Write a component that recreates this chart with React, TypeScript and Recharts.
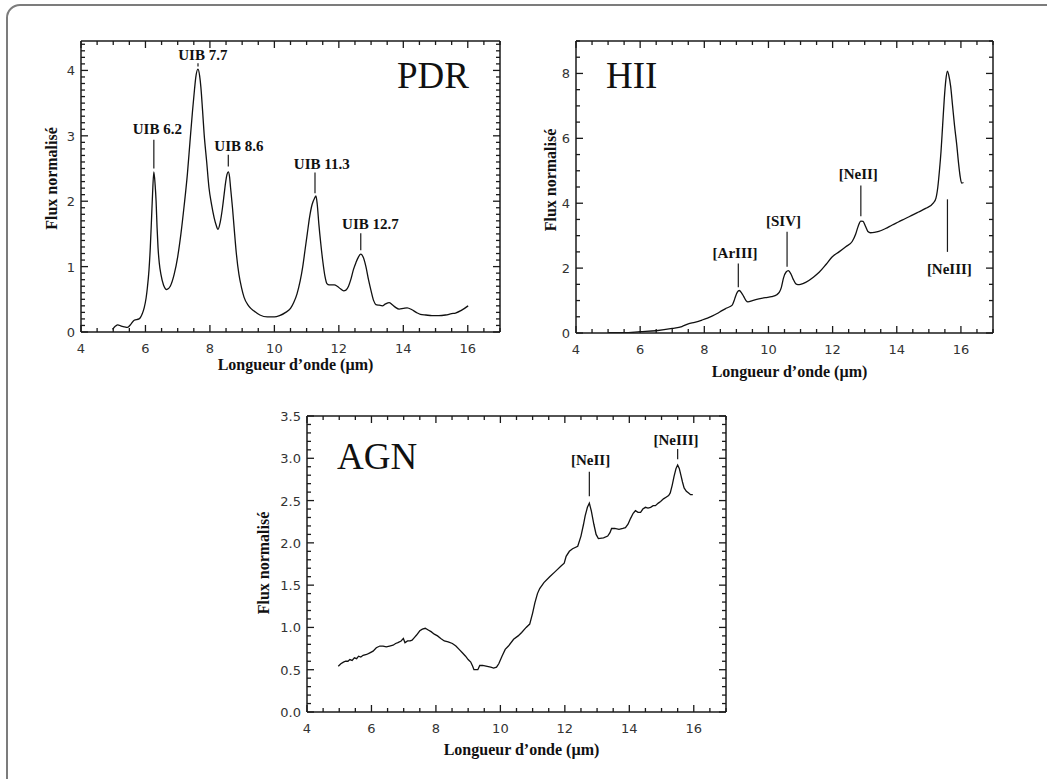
import React from 'react';
import { LineChart, Line, XAxis, YAxis, ReferenceLine, ReferenceDot } from 'recharts';

// Spectre PDR
const pdrWavelength = [
  4.98, 5.07, 5.14, 5.25, 5.35, 5.44, 5.55, 5.65, 5.8, 5.9, 5.96, 6.02, 6.06, 6.11, 6.15, 6.19, 6.22, 6.26,
  6.3, 6.33, 6.36, 6.39, 6.43, 6.48, 6.56, 6.66, 6.77, 6.89, 7.0, 7.1, 7.2, 7.3, 7.38, 7.46, 7.52, 7.56,
  7.63, 7.68, 7.72, 7.77, 7.82, 7.9, 7.97, 8.05, 8.13, 8.19, 8.25, 8.32, 8.39, 8.44, 8.49, 8.53, 8.57, 8.61,
  8.64, 8.7, 8.75, 8.82, 8.9, 8.98, 9.06, 9.2, 9.37, 9.55, 9.78, 10.0, 10.16, 10.35, 10.5, 10.6, 10.7, 10.8,
  10.88, 10.95, 11.02, 11.09, 11.17, 11.25, 11.29, 11.33, 11.38, 11.44, 11.5, 11.57, 11.63, 11.7, 11.86,
  11.95, 12.05, 12.15, 12.22, 12.3, 12.37, 12.45, 12.53, 12.61, 12.68, 12.75, 12.84, 12.92, 13.0, 13.08,
  13.15, 13.25, 13.35, 13.45, 13.56, 13.65, 13.75, 13.87, 14.0, 14.12, 14.27, 14.4, 14.53, 14.7, 14.89,
  15.1, 15.31, 15.5, 15.62, 15.8, 16.01,
];
const pdrFlux = [
  0.04, 0.09, 0.11, 0.09, 0.08, 0.07, 0.12, 0.18, 0.2, 0.28, 0.37, 0.52, 0.68, 0.95, 1.29, 1.75, 2.11, 2.45,
  2.25, 2.0, 1.6, 1.29, 1.05, 0.88, 0.72, 0.65, 0.7, 0.88, 1.15, 1.5, 1.93, 2.41, 2.9, 3.38, 3.7, 3.89,
  4.02, 3.92, 3.74, 3.4, 3.03, 2.6, 2.21, 1.95, 1.75, 1.64, 1.57, 1.68, 1.9, 2.1, 2.3, 2.41, 2.45, 2.37,
  2.21, 1.9, 1.6, 1.2, 0.88, 0.68, 0.53, 0.4, 0.32, 0.26, 0.23, 0.23, 0.25, 0.3, 0.36, 0.45, 0.58, 0.78,
  1.0, 1.25, 1.5, 1.75, 1.95, 2.05, 2.08, 1.95, 1.65, 1.35, 1.09, 0.85, 0.74, 0.72, 0.72,
  0.7, 0.66, 0.63, 0.64, 0.7, 0.8, 0.95, 1.06, 1.15, 1.19, 1.15, 1.0, 0.8, 0.63, 0.48,
  0.42, 0.41, 0.4, 0.43, 0.45, 0.42, 0.38, 0.35, 0.36, 0.37, 0.34, 0.3, 0.27, 0.26, 0.25,
  0.25, 0.26, 0.28, 0.29, 0.33, 0.4,
];

// Spectre HII
const hiiWavelength = [
  5.0, 5.5, 6.0, 6.5, 7.0, 7.3, 7.5, 7.7, 7.93, 8.1, 8.24, 8.4, 8.55, 8.7, 8.87, 8.93, 8.97, 9.03, 9.09,
  9.16, 9.23, 9.3, 9.36, 9.5, 9.7, 9.9, 10.1, 10.26, 10.34, 10.4, 10.47, 10.55, 10.62, 10.7, 10.77, 10.85,
  10.92, 11.0, 11.16, 11.4, 11.58, 11.8, 11.99, 12.2, 12.41, 12.61, 12.72, 12.8, 12.88, 12.95, 13.02, 13.1,
  13.18, 13.3, 13.44, 13.65, 13.86, 14.05, 14.27, 14.5, 14.68, 14.9, 15.15, 15.22, 15.28, 15.33, 15.38,
  15.43, 15.48, 15.53, 15.58, 15.62, 15.68, 15.74, 15.8, 15.87, 15.93, 15.98, 16.02, 16.08,
];
const hiiFlux = [
  0.01, 0.01, 0.04, 0.07, 0.14, 0.2, 0.28, 0.33, 0.4, 0.46, 0.52, 0.6, 0.69, 0.77, 0.86, 1.0, 1.12, 1.26, 1.31,
  1.24, 1.12, 1.0, 0.96, 1.0, 1.05, 1.09, 1.12, 1.18, 1.26, 1.4, 1.7, 1.88, 1.92, 1.82, 1.66, 1.52,
  1.49, 1.5, 1.56, 1.72, 1.87, 2.12, 2.35, 2.5, 2.66, 2.82, 3.05, 3.3, 3.45, 3.44, 3.3, 3.13,
  3.09, 3.1, 3.13, 3.22, 3.33, 3.42, 3.53, 3.64, 3.73, 3.84, 4.02, 4.15, 4.5, 5.0, 5.6,
  6.4, 7.2, 7.8, 8.07, 7.95, 7.6, 7.0, 6.4, 5.8, 5.2, 4.8, 4.62, 4.64,
];

// Spectre AGN
const agnWavelength = [
  4.97, 5.05, 5.13, 5.2, 5.27, 5.33, 5.4, 5.47, 5.54, 5.6, 5.67, 5.74, 5.85, 5.95, 6.05, 6.15, 6.26, 6.36,
  6.46, 6.56, 6.67, 6.75, 6.82, 6.92, 6.99, 7.04, 7.12, 7.2, 7.26, 7.33, 7.4, 7.5, 7.58, 7.67, 7.76, 7.85,
  7.95, 8.05, 8.15, 8.26, 8.38, 8.51, 8.62, 8.72, 8.82, 8.92, 9.0, 9.08, 9.14, 9.18, 9.3, 9.36, 9.45, 9.59,
  9.7, 9.79, 9.88, 9.95, 10.05, 10.15, 10.25, 10.41, 10.55, 10.66, 10.8, 10.91, 11.0, 11.07, 11.15, 11.22,
  11.35, 11.53, 11.7, 11.89, 11.98, 12.04, 12.14, 12.24, 12.4, 12.5, 12.58, 12.63, 12.7, 12.76, 12.82,
  12.9, 12.97, 13.04, 13.2, 13.33, 13.4, 13.45, 13.55, 13.68, 13.8, 13.88, 13.96, 14.04, 14.12, 14.19,
  14.27, 14.35, 14.42, 14.5, 14.58, 14.66, 14.74, 14.81, 14.9, 14.97, 15.06, 15.14, 15.22, 15.27, 15.33,
  15.39, 15.45, 15.5, 15.55, 15.6, 15.65, 15.7, 15.77, 15.84, 15.9, 15.97,
];
const agnFlux = [
  0.54, 0.57, 0.59, 0.6, 0.6, 0.62, 0.61, 0.64, 0.63, 0.66, 0.65, 0.67, 0.68, 0.7, 0.72, 0.76, 0.78, 0.78,
  0.77, 0.78, 0.79, 0.81, 0.82, 0.84, 0.87, 0.82, 0.84, 0.84, 0.85, 0.88, 0.91, 0.96, 0.98, 0.99, 0.97, 0.95,
  0.92, 0.9, 0.87, 0.84, 0.83, 0.81, 0.78, 0.74, 0.7, 0.66, 0.62, 0.59, 0.54, 0.5, 0.5, 0.55, 0.55, 0.54,
  0.53, 0.52, 0.53, 0.57, 0.66, 0.74, 0.78, 0.86, 0.9, 0.94, 1.0, 1.04, 1.17, 1.29, 1.4, 1.46,
  1.53, 1.6, 1.66, 1.73, 1.76, 1.84, 1.9, 1.93, 1.96, 2.08, 2.22, 2.32, 2.42, 2.47, 2.38,
  2.22, 2.1, 2.05, 2.06, 2.08, 2.12, 2.17, 2.17, 2.16, 2.17, 2.18, 2.22, 2.29, 2.35, 2.38,
  2.36, 2.36, 2.4, 2.42, 2.41, 2.42, 2.44, 2.44, 2.47, 2.49, 2.52, 2.54, 2.56, 2.59, 2.68,
  2.79, 2.88, 2.92, 2.88, 2.8, 2.72, 2.65, 2.61, 2.59, 2.57, 2.57,
];

// graduations
const xMajorTicks = [4, 6, 8, 10, 12, 14, 16];
const pdrYMajor = [0, 1, 2, 3, 4];
const hiiYMajor = [0, 2, 4, 6, 8];
const agnYMajor = [0, 0.5, 1, 1.5, 2, 2.5, 3, 3.5];

// raies annotées : x du trait, y bas/haut du trait, position du texte
const pdrNotes = [
  { label: 'UIB 6.2', x: 6.26, y0: 2.5, y1: 2.94, tx: 6.37, ty: 3.03 },
  { label: 'UIB 7.7', x: 7.63, y0: 4.06, y1: 4.11, tx: 7.78, ty: 4.16 },
  { label: 'UIB 8.6', x: 8.57, y0: 2.53, y1: 2.71, tx: 8.9, ty: 2.77 },
  { label: 'UIB 11.3', x: 11.26, y0: 2.12, y1: 2.44, tx: 11.47, ty: 2.5 },
  { label: 'UIB 12.7', x: 12.68, y0: 1.25, y1: 1.51, tx: 12.98, ty: 1.57 },
];
const hiiNotes = [
  { label: '[ArIII]', x: 9.06, y0: 1.41, y1: 2.14, tx: 8.96, ty: 2.3 },
  { label: '[SIV]', x: 10.58, y0: 2.04, y1: 3.12, tx: 10.47, ty: 3.29 },
  { label: '[NeII]', x: 12.88, y0: 3.6, y1: 4.55, tx: 12.8, ty: 4.74 },
  { label: '[NeIII]', x: 15.58, y0: 2.5, y1: 4.12, tx: 15.64, ty: 1.82 },
];
const agnNotes = [
  { label: '[NeII]', x: 12.76, y0: 2.55, y1: 2.84, tx: 12.8, ty: 2.92 },
  { label: '[NeIII]', x: 15.5, y0: 2.99, y1: 3.11, tx: 15.45, ty: 3.16 },
];

const SERIF = '"Liberation Serif", "Times New Roman", serif';
const SANS = '"DejaVu Sans", sans-serif';
const INK = '#1a1a1a';
const X_MIN = 4;
const X_MAX = 17;

function steps(from: number, to: number, step: number) {
  const out: number[] = [];
  for (let i = 0; from + i * step <= to + 1e-9; i++) out.push(Math.round((from + i * step) * 1000) / 1000);
  return out;
}
const isMajor = (v: number, majors: number[]) => majors.some((m) => Math.abs(m - v) < 1e-6);

const toRows = (wl: number[], flux: number[]) => wl.map((w, i) => ({ wl: w, flux: flux[i] }));

type Rect = { left: number; top: number; right: number; bottom: number };
type Note = { label: string; x: number; y0: number; y1: number; tx: number; ty: number };

interface PanelProps {
  data: { wl: number; flux: number }[];
  box: { left: number; top: number; width: number; height: number };
  plot: Rect;
  yMax: number;
  yStep: number;
  yMajor: number[];
  yDigits: number;
  title: string;
  titleAt: [number, number];
  notes: Note[];
  xTitleDy: number;
  yTitleDx: number;
  yTitleDy: number;
  curve: 'monotoneX' | 'linear';
}

function SpectrumPanel(p: PanelProps) {
  const { box, plot } = p;
  const xTicks = steps(X_MIN, X_MAX, 0.5);
  const yTicks = steps(0, p.yMax, p.yStep);
  const xAxisH = 40;
  // plot rect in chart coordinates
  const lx = plot.left - box.left;
  const ly = plot.top - box.top;
  const pw = plot.right - plot.left;
  const ph = plot.bottom - plot.top;
  const rx = lx + pw;
  const by = ly + ph;
  const margin = { top: 0, right: 0, left: 0, bottom: box.height - by - xAxisH };

  // tick length in data units (inward ticks on the four sides)
  const dxPer = (X_MAX - X_MIN) / pw;
  const dyPer = p.yMax / ph;
  const len = (major: boolean) => (major ? 7 : 4);

  const bottomLabel = (t: any) => {
    const v = t.payload.value;
    if (!isMajor(v, xMajorTicks)) return <g />;
    return (
      <text x={t.x} y={by + 21} textAnchor="middle" fontFamily={SANS} fontSize={13} fill="#333">
        {v}
      </text>
    );
  };
  const leftLabel = (t: any) => {
    const v = t.payload.value;
    if (!isMajor(v, p.yMajor)) return <g />;
    return (
      <text x={lx - 6} y={t.y + 5} textAnchor="end" fontFamily={SANS} fontSize={13} fill="#333">
        {v.toFixed(p.yDigits)}
      </text>
    );
  };

  const axisLine = { stroke: INK, strokeWidth: 1.5 };
  const tickLines: React.ReactNode[] = [];
  xTicks.forEach((v) => {
    const d = len(isMajor(v, xMajorTicks)) * dyPer;
    tickLines.push(
      <ReferenceLine key={'xb' + v} segment={[{ x: v, y: 0 }, { x: v, y: d }]} stroke={INK} strokeWidth={1.3} ifOverflow="visible" />,
      <ReferenceLine key={'xt' + v} segment={[{ x: v, y: p.yMax }, { x: v, y: p.yMax - d }]} stroke={INK} strokeWidth={1.3} ifOverflow="visible" />,
    );
  });
  yTicks.forEach((v) => {
    const d = len(isMajor(v, p.yMajor)) * dxPer;
    tickLines.push(
      <ReferenceLine key={'yl' + v} segment={[{ x: X_MIN, y: v }, { x: X_MIN + d, y: v }]} stroke={INK} strokeWidth={1.3} ifOverflow="visible" />,
      <ReferenceLine key={'yr' + v} segment={[{ x: X_MAX, y: v }, { x: X_MAX - d, y: v }]} stroke={INK} strokeWidth={1.3} ifOverflow="visible" />,
    );
  });

  return (
    <div style={{ position: 'absolute', left: box.left, top: box.top }}>
      <LineChart width={box.width} height={box.height} data={p.data} margin={margin}>
        <XAxis
          dataKey="wl"
          type="number"
          domain={[X_MIN, X_MAX]}
          ticks={xTicks}
          interval={0}
          tickLine={false}
          axisLine={axisLine}
          tick={bottomLabel}
          height={xAxisH}
          allowDataOverflow
        />
        <XAxis
          xAxisId="top"
          orientation="top"
          dataKey="wl"
          type="number"
          domain={[X_MIN, X_MAX]}
          tickLine={false}
          axisLine={axisLine}
          tick={false}
          height={ly}
          allowDataOverflow
        />
        <YAxis
          type="number"
          domain={[0, p.yMax]}
          ticks={yTicks}
          interval={0}
          tickLine={false}
          axisLine={axisLine}
          tick={leftLabel}
          width={lx}
          allowDataOverflow
        />
        <YAxis
          yAxisId="right"
          orientation="right"
          type="number"
          domain={[0, p.yMax]}
          tickLine={false}
          axisLine={axisLine}
          tick={false}
          width={box.width - rx}
          allowDataOverflow
        />
        {tickLines}
        <Line
          dataKey="flux"
          type={p.curve}
          stroke="#111"
          strokeWidth={1.3}
          dot={false}
          activeDot={false}
          isAnimationActive={false}
        />
        {p.notes.map((n) => (
          <ReferenceLine
            key={'l' + n.label}
            segment={[{ x: n.x, y: n.y0 }, { x: n.x, y: n.y1 }]}
            stroke={INK}
            strokeWidth={1.2}
          />
        ))}
        {p.notes.map((n) => (
          <ReferenceDot
            key={'t' + n.label}
            x={n.tx}
            y={n.ty}
            r={0}
            shape={(s: any) => (
              <text x={s.cx} y={s.cy} textAnchor="middle" fontFamily={SERIF} fontWeight="bold" fontSize={15} fill="#111">
                {n.label}
              </text>
            )}
          />
        ))}
        <text x={p.titleAt[0] - box.left} y={p.titleAt[1] - box.top} fontFamily={SERIF} fontSize={37} fill="#111">
          {p.title}
        </text>
        <text
          x={lx + pw / 2 + 5}
          y={by + p.xTitleDy}
          textAnchor="middle"
          fontFamily={SERIF}
          fontWeight="bold"
          fontSize={16}
          fill="#111"
        >
          Longueur d’onde (µm)
        </text>
        <text
          x={lx + p.yTitleDx}
          y={ly + ph / 2 + p.yTitleDy}
          textAnchor="middle"
          fontFamily={SERIF}
          fontWeight="bold"
          fontSize={16}
          fill="#111"
          transform={`rotate(-90 ${lx + p.yTitleDx} ${ly + ph / 2 + p.yTitleDy})`}
        >
          Flux normalisé
        </text>
      </LineChart>
    </div>
  );
}

export default function App() {
  return (
    <div
      style={{ position: 'absolute', left: 0, top: 0, width: 1047, height: 779, overflow: 'hidden', background: '#fff' }}
    >
      <div
        style={{
          position: 'absolute',
          left: 6,
          top: 4,
          width: 1100,
          height: 900,
          border: '2px solid #7c7c7c',
          borderRadius: 14,
        }}
      />
      <SpectrumPanel
        data={toRows(pdrWavelength, pdrFlux)}
        box={{ left: 20, top: 20, width: 500, height: 370 }}
        plot={{ left: 81, top: 41, right: 500, bottom: 332 }}
        yMax={4.45}
        yStep={0.1}
        yMajor={pdrYMajor}
        yDigits={0}
        title="PDR"
        titleAt={[397, 88]}
        notes={pdrNotes}
        xTitleDy={38}
        yTitleDx={-24}
        yTitleDy={-8}
        curve="monotoneX"
      />
      <SpectrumPanel
        data={toRows(hiiWavelength, hiiFlux)}
        box={{ left: 530, top: 20, width: 490, height: 370 }}
        plot={{ left: 576, top: 41, right: 993, bottom: 333 }}
        yMax={9}
        yStep={0.5}
        yMajor={hiiYMajor}
        yDigits={0}
        title="HII"
        titleAt={[606, 88]}
        notes={hiiNotes}
        xTitleDy={44}
        yTitleDx={-20}
        yTitleDy={-7}
        curve="monotoneX"
      />
      <SpectrumPanel
        data={toRows(agnWavelength, agnFlux)}
        box={{ left: 240, top: 395, width: 510, height: 380 }}
        plot={{ left: 307, top: 416, right: 726, bottom: 712 }}
        yMax={3.5}
        yStep={0.1}
        yMajor={agnYMajor}
        yDigits={1}
        title="AGN"
        titleAt={[337, 469]}
        notes={agnNotes}
        xTitleDy={43}
        yTitleDx={-38}
        yTitleDy={-1}
        curve="linear"
      />
    </div>
  );
}
